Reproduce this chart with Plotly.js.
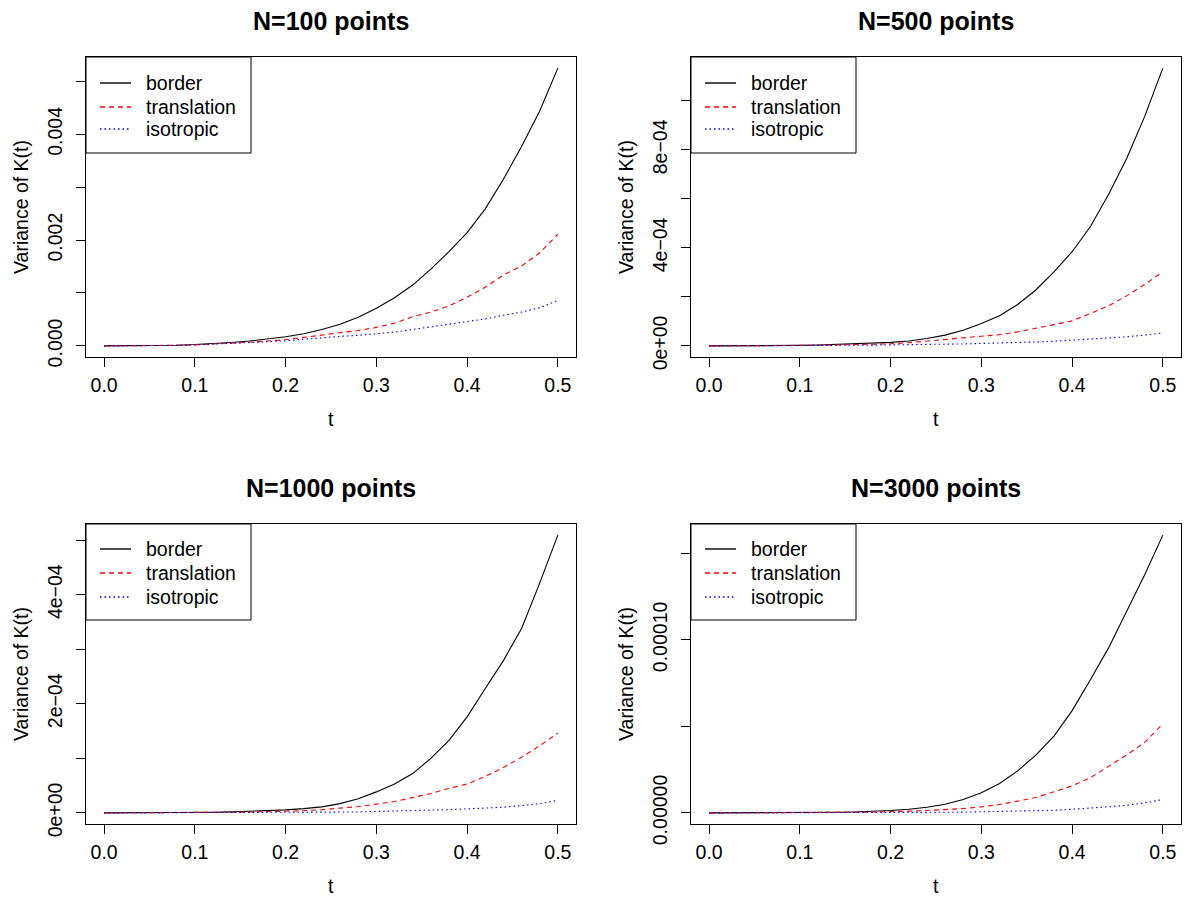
<!DOCTYPE html>
<html>
<head>
<meta charset="utf-8">
<script src="https://cdn.plot.ly/plotly-3.0.1.min.js"></script>
<style>
html,body{margin:0;padding:0;background:#ffffff;}
#chart{width:1189px;height:898px;}
</style>
</head>
<body>
<div id="chart"></div>
<script>
// ---------- data ----------
const t = [0,0.02,0.04,0.06,0.08,0.10,0.12,0.14,0.16,0.18,0.20,0.22,0.24,0.26,0.28,0.30,0.32,0.34,0.36,0.38,0.40,0.42,0.44,0.46,0.48,0.50];

// N=100 (values in units of 1e-3)
const n100Unit = 1e-3;
const n100Border      = [0,0.0003,0.002,0.006,0.013,0.025,0.042,0.065,0.092,0.128,0.172,0.23,0.31,0.41,0.54,0.71,0.91,1.15,1.45,1.78,2.14,2.59,3.15,3.77,4.44,5.25];
const n100Translation = [0,0.0003,0.002,0.005,0.011,0.020,0.033,0.050,0.070,0.093,0.117,0.16,0.21,0.25,0.29,0.35,0.43,0.55,0.64,0.755,0.92,1.11,1.34,1.51,1.76,2.11];
const n100Isotropic   = [0,0.0003,0.002,0.005,0.010,0.018,0.030,0.045,0.060,0.078,0.098,0.13,0.155,0.18,0.20,0.224,0.26,0.31,0.36,0.40,0.46,0.51,0.58,0.64,0.72,0.86];

// N=500 (values in units of 1e-4)
const n500Unit = 1e-4;
const n500Border      = [0,0.0002,0.001,0.004,0.010,0.020,0.035,0.055,0.080,0.110,0.145,0.20,0.30,0.44,0.64,0.91,1.23,1.69,2.28,3.02,3.84,4.86,6.16,7.63,9.36,11.33];
const n500Translation = [0,0.0002,0.001,0.003,0.008,0.015,0.025,0.038,0.050,0.065,0.085,0.13,0.19,0.25,0.31,0.37,0.46,0.57,0.71,0.87,1.02,1.32,1.63,2.04,2.51,3.02];
const n500Isotropic   = [0,0.0001,0.0005,0.0015,0.003,0.006,0.010,0.015,0.020,0.030,0.040,0.045,0.05,0.065,0.08,0.10,0.11,0.14,0.16,0.19,0.23,0.27,0.31,0.37,0.44,0.53];

// N=1000 (values in units of 1e-4)
const n1000Unit = 1e-4;
const n1000Border      = [0,0.0001,0.0005,0.0015,0.0035,0.007,0.012,0.019,0.028,0.040,0.055,0.078,0.11,0.17,0.26,0.385,0.53,0.72,1.00,1.33,1.76,2.28,2.79,3.38,4.21,5.09];
const n1000Translation = [0,0.0001,0.0004,0.0012,0.0025,0.005,0.008,0.012,0.016,0.020,0.027,0.04,0.06,0.085,0.116,0.16,0.21,0.28,0.355,0.45,0.53,0.67,0.83,1.02,1.23,1.46];
const n1000Isotropic   = [0,0.0001,0.0003,0.0006,0.001,0.0015,0.002,0.003,0.004,0.005,0.006,0.009,0.012,0.015,0.018,0.024,0.03,0.037,0.05,0.06,0.073,0.086,0.104,0.135,0.17,0.23];

// N=3000 (values in units of 1e-5)
const n3000Unit = 1e-5;
const n3000Border      = [0,0.0003,0.001,0.003,0.007,0.013,0.022,0.035,0.055,0.090,0.14,0.21,0.33,0.50,0.77,1.16,1.70,2.43,3.34,4.44,5.91,7.68,9.52,11.64,13.76,16.05];
const n3000Translation = [0,0.0002,0.001,0.002,0.005,0.010,0.017,0.026,0.036,0.048,0.06,0.10,0.14,0.19,0.25,0.35,0.48,0.68,0.89,1.22,1.56,2.03,2.68,3.34,4.07,5.14];
const n3000Isotropic   = [0,0.0001,0.0003,0.0006,0.001,0.002,0.003,0.005,0.007,0.010,0.015,0.02,0.025,0.035,0.045,0.06,0.08,0.10,0.12,0.15,0.21,0.27,0.35,0.44,0.58,0.77];

const seriesNames = ['border','translation','isotropic'];
const panelTitles = ['N=100 points','N=500 points','N=1000 points','N=3000 points'];

const xTickVals = [0,0.1,0.2,0.3,0.4,0.5];
const xTickText = ['0.0','0.1','0.2','0.3','0.4','0.5'];

const yTickVals = [
  [0,0.001,0.002,0.003,0.004,0.005],
  [0,2e-4,4e-4,6e-4,8e-4,1e-3],
  [0,1e-4,2e-4,3e-4,4e-4,5e-4],
  [0,5e-5,1e-4,1.5e-4]
];
const yTickText = [
  ['0.000','','0.002','','0.004',''],
  ['0e+00','','4e\u221204','','8e\u221204',''],
  ['0e+00','','2e\u221204','','4e\u221204',''],
  ['0.00000','','0.00010','']
];

// ---------- layout ----------
const W = 1189, H = 898;
const FONT = 'Liberation Sans, Arial, Helvetica, sans-serif';
const FS = 19.5;
// plot boxes in pixels [left, right, top, bottom]
const boxes = [
  [86, 576, 57, 357],
  [691, 1181, 57, 357],
  [86, 576, 524, 824],
  [691, 1181, 524, 824]
];

const panelData = [
  {unit:n100Unit,  s:[n100Border,  n100Translation,  n100Isotropic]},
  {unit:n500Unit,  s:[n500Border,  n500Translation,  n500Isotropic]},
  {unit:n1000Unit, s:[n1000Border, n1000Translation, n1000Isotropic]},
  {unit:n3000Unit, s:[n3000Border, n3000Translation, n3000Isotropic]}
];

const lineColors = ['#000000', '#FF0000', '#0000FF'];
const lineDashes = ['solid', '5px,4px', '1.5px,3px'];

// legend box geometry (pixels, relative to plot box top-left)
const LEG = {w: 165, h: 96, rows: [25.7, 49.3, 72.5], lineX0: 14, lineX1: 45, textX: 58};

const px = x => x / W;
const py = y => 1 - y / H;
const oddRow = v => 2 * Math.round((v - 1) / 2) + 1;

const traces = [];
const layout = {
  width: W, height: H,
  margin: {l:0, r:0, t:0, b:0},
  paper_bgcolor: '#ffffff',
  plot_bgcolor: '#ffffff',
  font: {family: FONT, color: '#000000', size: FS},
  showlegend: false,
  annotations: [],
  shapes: []
};

panelData.forEach((p, i) => {
  const k = i + 1;
  const sfx = (k === 1 ? '' : String(k));
  const xa = 'xaxis' + sfx, ya = 'yaxis' + sfx;
  const xr = 'x' + sfx, yr = 'y' + sfx;
  const [L, R, T, B] = boxes[i];

  let ymin = Infinity, ymax = -Infinity;
  p.s.forEach((arr, j) => {
    const yv = arr.map(v => v * p.unit);
    yv.forEach(v => { if (v < ymin) ymin = v; if (v > ymax) ymax = v; });
    traces.push({
      type: 'scatter', mode: 'lines',
      x: t.slice(), y: yv,
      name: seriesNames[j],
      xaxis: xr, yaxis: yr,
      line: {color: lineColors[j], width: 1.1, dash: lineDashes[j]},
      hoverinfo: 'skip'
    });
  });
  const span = ymax - ymin;

  const common = () => ({
    showgrid: false, zeroline: false,
    showline: true, mirror: true, linecolor: '#000000', linewidth: 1,
    ticks: 'outside', ticklen: 9, tickwidth: 1, tickcolor: '#000000',
    tickfont: {family: FONT, size: FS, color: '#000000'},
    tickmode: 'array', fixedrange: true
  });

  layout[xa] = Object.assign(common(), {
    domain: [px(L), px(R)],
    range: [-0.02, 0.52],
    tickvals: xTickVals, ticktext: xTickText,
    anchor: yr,
    ticklabelstandoff: 2
  });
  layout[ya] = Object.assign(common(), {
    domain: [py(B), py(T)],
    range: [ymin - 0.04 * span, ymax + 0.04 * span],
    tickvals: yTickVals[i], ticktext: yTickText[i],
    tickangle: -90,
    anchor: xr,
    ticklabelstandoff: 6
  });

  // ----- legend (box, keys, labels) -----
  layout.shapes.push({
    type: 'rect', xref: 'paper', yref: 'paper', layer: 'above',
    x0: px(L), x1: px(L + LEG.w), y0: py(T), y1: py(T + LEG.h),
    line: {color: '#000000', width: 1}, fillcolor: '#ffffff'
  });
  seriesNames.forEach((nm, j) => {
    const ry = oddRow(T + LEG.rows[j]);
    layout.shapes.push({
      type: 'line', xref: 'paper', yref: 'paper', layer: 'above',
      x0: px(L + LEG.lineX0), x1: px(L + LEG.lineX1), y0: py(ry), y1: py(ry),
      line: {color: lineColors[j], width: 1.4, dash: lineDashes[j]}
    });
    layout.annotations.push({
      text: nm, xref: 'paper', yref: 'paper',
      x: px(L + LEG.textX), y: py(ry), xanchor: 'left', yanchor: 'middle',
      showarrow: false,
      font: {family: FONT, size: FS, color: '#000000'}
    });
  });

  const cx = px((L + R) / 2);
  // panel title
  layout.annotations.push({
    text: panelTitles[i], xref: 'paper', yref: 'paper',
    x: cx, y: py(T - 36), xanchor: 'center', yanchor: 'middle',
    showarrow: false,
    font: {family: FONT, size: 25, color: '#000000', weight: 'bold'}
  });
  // x axis title
  layout.annotations.push({
    text: 't', xref: 'paper', yref: 'paper',
    x: cx, y: py(B + 62), xanchor: 'center', yanchor: 'middle',
    showarrow: false,
    font: {family: FONT, size: FS, color: '#000000'}
  });
  // y axis title
  layout.annotations.push({
    text: 'Variance of K(t)', xref: 'paper', yref: 'paper',
    x: px(L - 65), y: py((T + B) / 2), xanchor: 'center', yanchor: 'middle',
    textangle: -90, showarrow: false,
    font: {family: FONT, size: FS, color: '#000000'}
  });
});

Plotly.newPlot('chart', traces, layout, {staticPlot: true, displayModeBar: false});
</script>
</body>
</html>
